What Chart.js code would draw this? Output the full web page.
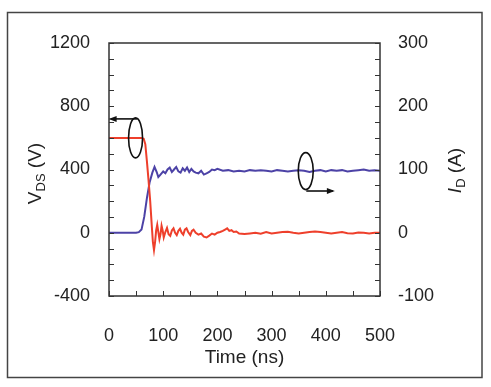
<!DOCTYPE html>
<html>
<head>
<meta charset="utf-8">
<script src="https://cdn.jsdelivr.net/npm/chart.js@4.4.1/dist/chart.umd.min.js"></script>
<style>
  html, body { margin: 0; padding: 0; background: #fff; }
  #wrap { position: relative; width: 491px; height: 387px; }
</style>
</head>
<body>
<div id="wrap"><canvas id="vdsChart" width="491" height="387"></canvas></div>
<script>
// V_DS (V) vs time (ns)
const timeV = [0, 60, 64, 67, 70, 73, 76, 79, 81, 83, 85, 87, 89, 91, 93, 95, 97, 99, 101, 104, 107, 110, 113, 116, 119, 122, 125, 128, 131, 134, 137, 140, 143, 146, 150, 153, 156, 160, 165, 170, 175, 180, 185, 190, 195, 200, 205, 210, 215, 218, 222, 226, 230, 235, 240, 250, 260, 270, 280, 290, 300, 310, 320, 330, 340, 350, 360, 370, 380, 390, 400, 410, 420, 430, 440, 450, 460, 470, 480, 490, 500];
const vds = [600, 600, 595, 560, 450, 330, 200, 40, -60, -110, -60, 15, 50, 5, -40, -10, 45, 15, -30, 5, 30, -10, -20, 15, 28, 0, -15, 12, 25, 0, -12, 20, 28, 5, -15, 12, 20, 0, -12, -5, -25, -30, -18, -5, -12, 0, 5, 12, 22, 28, 12, 16, 5, 8, -5, -8, -4, 0, -6, 4, -4, 0, 4, 6, 0, -4, 0, 4, 8, 4, 0, -4, 0, 4, -3, -4, 2, 0, -4, 0, 0];

// I_D (A) vs time (ns)
const timeI = [0, 50, 55, 60, 65, 70, 75, 80, 84, 88, 91, 95, 100, 104, 108, 112, 116, 120, 124, 128, 132, 136, 140, 144, 148, 152, 156, 160, 165, 170, 175, 180, 185, 190, 195, 200, 210, 220, 230, 240, 250, 260, 270, 280, 290, 300, 310, 320, 330, 340, 350, 360, 370, 380, 390, 400, 410, 420, 430, 440, 450, 460, 470, 480, 490, 500];
const idA = [0, 0, 1, 5, 25, 55, 80, 95, 104, 96, 88, 92, 97, 94, 100, 103, 96, 100, 104, 97, 95, 102, 98, 103, 96, 101, 97, 95, 94, 98, 92, 94, 96, 100, 99, 101, 98, 99, 97, 98, 97, 99, 98, 99, 98, 97, 99, 98, 97, 98, 99, 98, 96, 98, 99, 97, 99, 98, 99, 97, 98, 99, 100, 98, 99, 98];

const xTicks = [0, 100, 200, 300, 400, 500];
const vTicks = [-400, 0, 400, 800, 1200];
const iTicks = [-100, 0, 100, 200, 300];

const FONT = '"Liberation Sans", Arial, sans-serif';
const INK = '#222';

// box, inward ticks, axis titles and the rotation arrows
const framePlugin = {
  id: 'frame',
  afterDraw(chart) {
    const ctx = chart.ctx;
    const a = chart.chartArea;
    const sx = chart.scales.x, sy = chart.scales.y, sy2 = chart.scales.y2;
    ctx.save();

    // outer frame
    ctx.strokeStyle = '#444';
    ctx.lineWidth = 1.5;
    ctx.strokeRect(7.5, 12.5, 474.5, 365);

    // plot box
    ctx.strokeStyle = '#333';
    ctx.lineWidth = 1.5;
    ctx.strokeRect(a.left, a.top, a.right - a.left, a.bottom - a.top);

    // minor/major ticks pointing inward
    ctx.lineWidth = 1;
    ctx.beginPath();
    for (let v = -400; v <= 1200; v += 100) {
      const p = Math.round(sy.getPixelForValue(v)) + 0.5;
      ctx.moveTo(a.left, p); ctx.lineTo(a.left + 5, p);
    }
    for (let v = -100; v <= 300; v += 25) {
      const p = Math.round(sy2.getPixelForValue(v)) + 0.5;
      ctx.moveTo(a.right, p); ctx.lineTo(a.right - 5, p);
    }
    for (let t = 0; t <= 500; t += 50) {
      const p = Math.round(sx.getPixelForValue(t)) + 0.5;
      ctx.moveTo(p, a.bottom); ctx.lineTo(p, a.bottom - 5);
    }
    ctx.stroke();

    // axis titles
    ctx.fillStyle = INK;
    ctx.textBaseline = 'alphabetic';
    ctx.font = '19px ' + FONT;
    ctx.textAlign = 'center';
    ctx.fillText('Time (ns)', (a.left + a.right) / 2, 363);

    const midY = (a.top + a.bottom) / 2;
    // left: V_DS (V)
    ctx.save();
    ctx.translate(41, midY + 4);
    ctx.rotate(-Math.PI / 2);
    ctx.textAlign = 'left';
    const partsL = [['V', '19px ' + FONT, 0], ['DS', '13px ' + FONT, 4], [' (V)', '19px ' + FONT, 0]];
    let w = 0;
    partsL.forEach(p => { ctx.font = p[1]; w += ctx.measureText(p[0]).width; });
    let x0 = -w / 2;
    partsL.forEach(p => { ctx.font = p[1]; ctx.fillText(p[0], x0, p[2]); x0 += ctx.measureText(p[0]).width; });
    ctx.restore();

    // right: I_D (A)
    ctx.save();
    ctx.translate(461, midY + 1);
    ctx.rotate(-Math.PI / 2);
    ctx.textAlign = 'left';
    const partsR = [['I', 'italic 19px ' + FONT, 0], ['D', '13px ' + FONT, 4], [' (A)', '19px ' + FONT, 0]];
    w = 0;
    partsR.forEach(p => { ctx.font = p[1]; w += ctx.measureText(p[0]).width; });
    x0 = -w / 2;
    partsR.forEach(p => { ctx.font = p[1]; ctx.fillText(p[0], x0, p[2]); x0 += ctx.measureText(p[0]).width; });
    ctx.restore();

    // rotation arrows
    ctx.strokeStyle = '#111';
    ctx.fillStyle = '#111';
    ctx.lineWidth = 1.6;
    function loop(cx, cy, rx, ry, ay, x1, x2) {
      ctx.beginPath();
      ctx.ellipse(cx, cy, rx, ry, 0, 0, Math.PI * 2);
      ctx.stroke();
      ctx.beginPath();
      ctx.moveTo(x1, ay); ctx.lineTo(x2, ay);
      ctx.stroke();
      const dir = Math.sign(x2 - x1);
      ctx.beginPath();
      ctx.moveTo(x2 + dir * 2, ay);
      ctx.lineTo(x2 - dir * 6, ay - 3);
      ctx.lineTo(x2 - dir * 6, ay + 3);
      ctx.closePath();
      ctx.fill();
    }
    loop(sx.getPixelForValue(49), sy.getPixelForValue(600), 7, 20,
         sy.getPixelForValue(720), sx.getPixelForValue(52), sx.getPixelForValue(3));
    loop(sx.getPixelForValue(363), sy2.getPixelForValue(97.5), 7.5, 18.5,
         sy2.getPixelForValue(66), sx.getPixelForValue(364), sx.getPixelForValue(413));

    ctx.restore();
  }
};

const plain = v => String(v);

const ctx = document.getElementById('vdsChart').getContext('2d');
new Chart(ctx, {
  type: 'line',
  data: {
    datasets: [
      {
        label: 'VDS',
        data: timeV.map((t, i) => ({ x: t, y: vds[i] })),
        yAxisID: 'y',
        borderColor: '#ee3f2b',
        borderWidth: 2,
        pointRadius: 0,
        tension: 0
      },
      {
        label: 'ID',
        data: timeI.map((t, i) => ({ x: t, y: idA[i] })),
        yAxisID: 'y2',
        borderColor: '#4c42a6',
        borderWidth: 2,
        pointRadius: 0,
        tension: 0
      }
    ]
  },
  options: {
    responsive: false,
    animation: false,
    layout: { padding: { top: 43, left: 0, right: 0, bottom: 0 } },
    plugins: { legend: { display: false }, tooltip: { enabled: false } },
    scales: {
      x: {
        type: 'linear',
        min: 0, max: 500,
        afterBuildTicks: s => { s.ticks = xTicks.map(v => ({ value: v })); },
        afterFit: s => { s.height = 91; },
        grid: { display: false, drawTicks: false },
        border: { display: false },
        ticks: { padding: 29, color: INK, font: { family: FONT, size: 18 }, maxRotation: 0, callback: plain }
      },
      y: {
        position: 'left',
        min: -400, max: 1200,
        afterBuildTicks: s => { s.ticks = vTicks.map(v => ({ value: v })); },
        afterFit: s => { s.width = 109; },
        grid: { display: false, drawTicks: false },
        border: { display: false },
        ticks: { padding: 19, color: INK, font: { family: FONT, size: 18 }, callback: plain }
      },
      y2: {
        position: 'right',
        min: -100, max: 300,
        afterBuildTicks: s => { s.ticks = iTicks.map(v => ({ value: v })); },
        afterFit: s => { s.width = 111; },
        grid: { display: false, drawTicks: false },
        border: { display: false },
        ticks: { padding: 18, color: INK, font: { family: FONT, size: 18 }, callback: plain }
      }
    }
  },
  plugins: [framePlugin]
});
</script>
</body>
</html>
